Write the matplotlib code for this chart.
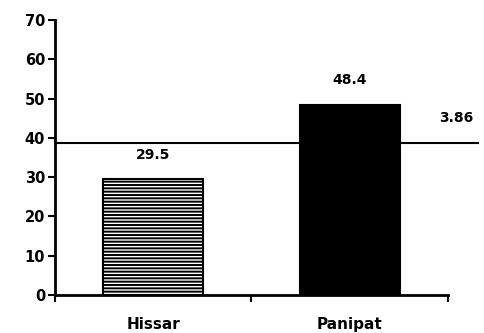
import matplotlib
matplotlib.use("Agg")
import matplotlib.pyplot as plt

districts = ['Hissar', 'Panipat']
values = [29.5, 48.4]
value_labels = ['29.5', '48.4']
line_value = 38.6
line_label = '3.86'
y_ticks = [0, 10, 20, 30, 40, 50, 60, 70]

plt.rcParams['font.family'] = ['DejaVu Sans']
plt.rcParams['hatch.linewidth'] = 1.4

fig = plt.figure(figsize=(4.85, 3.33), dpi=100)
ax = fig.add_axes([0.113, 0.114, 0.811, 0.826])

# reference line, drawn under the bars and running past the axis end
ax.plot([-0.5, 1.65], [line_value, line_value], color='black', lw=1.5,
        clip_on=False, zorder=1)
ax.text(1.54, line_value + 6.4, line_label, ha='center', va='center',
        fontsize=10, fontweight='bold', clip_on=False)

bars = ax.bar([0, 1], values, width=0.51, zorder=2, edgecolor='black', linewidth=1.5)
bars[0].set_facecolor('white')
bars[0].set_hatch('-----')
bars[1].set_facecolor('black')

label_y = [35.6, 54.7]
for i in range(len(values)):
    ax.text(i, label_y[i], value_labels[i], ha='center', va='center',
            fontsize=10, fontweight='bold')

ax.set_xlim(-0.5, 1.5)
ax.set_ylim(0, 70)
ax.set_yticks(y_ticks)
ax.set_yticklabels([str(t) for t in y_ticks], fontsize=10.5, fontweight='bold')
ax.set_xticks([-0.5, 0.5, 1.5])
ax.set_xticklabels([])
ax.tick_params(axis='both', direction='out', length=5, width=1.5)
ax.tick_params(axis='y', pad=2)

for i in range(len(districts)):
    ax.text(i, -7.6, districts[i], ha='center', va='center',
            fontsize=11, fontweight='bold')

ax.spines['top'].set_visible(False)
ax.spines['right'].set_visible(False)
ax.spines['left'].set_linewidth(2)
ax.spines['bottom'].set_linewidth(2)

fig.savefig('out.png', dpi=100)
